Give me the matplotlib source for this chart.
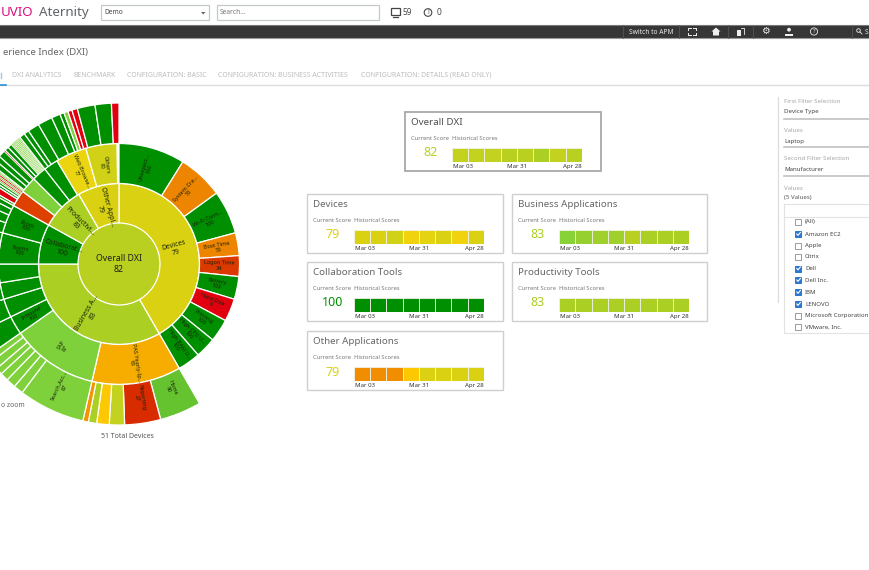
import numpy as np
import matplotlib
matplotlib.use("Agg")
import matplotlib.pyplot as plt
from matplotlib.colors import LinearSegmentedColormap
from matplotlib.patches import Rectangle, Circle

plt.rcParams['font.family'] = ['Noto Sans', 'DejaVu Sans']

# ---- data ----
center_label = "Overall DXI"
center_score = 82

ring1_names = ["Devices", "Business A...", "Collaborat...", "Productivi...", "Other Appl..."]
ring1_widths = [150, 120, 29, 31, 30]
ring1_scores = [79, 83, 100, 83, 79]

ring2_names = ["Unexpect...", "System Cra...", "Wi-Fi Conn...", "Boot Time", "Logon Time", "Battery",
               "Hard Disk", "Printing", "High CPU U...", "High RAM U...", "PAS Yearly-Ip...", "SAP",
               "Inbound", "", "", "", "Teams", "Zoom", "", "", "", "", "Web Browse...", "Others"]
ring2_widths = [32, 22, 21, 11, 10, 11, 11, 11, 10, 11, 43, 42, 9, 9, 8, 9, 15, 14, 8, 8, 7, 7, 15, 15]
ring2_scores = [100, 56, 100, 56, 34, 100, 0, 100, 100, 100, 66, 87, 100, 100, 100, 100, 100, 100,
                36, 87, 100, 100, 77, 80]
ring2_shown = [True] * 12 + [True, False, False, False, True, True, False, False, False, False, True, True]

ring3_widths = [15, 13, 5.5, 4.5, 3, 2,
                24, 3.5, 3.5, 3, 2.5, 3.1, 2.4,
                9, 9, 8, 9,
                15, 5, 4, 3, 2,
                1, 2.5, 1, 1, 0.6, 0.6, 0.6, 0.6, 0.6, 0.5,
                2, 2, 2.5, 0.5, 1.5, 1.5,
                0.5, 0.5, 0.5, 0.5, 0.5, 0.5, 0.5, 0.5, 2, 1.8, 4.2,
                5.3, 3.2, 1.5, 1.5, 1.5, 2,
                6.4, 5.9, 2.7]
ring3_scores = [90, 27, 81, 72, 83, 60,
                87, 87, 87, 87, 87, 87, 87,
                100, 100, 100, 100,
                100, 100, 100, 100, 100,
                100, 0, 100, 100, 87, 0, 87, 0, 87, 87,
                100, 100, 100, 0, 100, 100,
                87, 87, 87, 87, 87, 87, 87, 87, 100, 100, 100,
                100, 100, 100, 87, 0, 0,
                100, 100, 0]
ring3_labelled = {0: "Home\n90", 1: "Reporting\n27", 6: "Search.Acc...\n87"}

card_titles = ["Overall DXI", "Devices", "Business Applications", "Collaboration Tools",
               "Productivity Tools", "Other Applications"]
card_scores = [82, 79, 83, 100, 83, 79]
card_history = [[81, 81, 81, 82, 82, 83, 81, 82],
                [79, 79, 80, 76, 78, 79, 76, 79],
                [86, 85, 84, 84, 82, 83, 83, 83],
                [100, 100, 100, 100, 100, 100, 100, 100],
                [83, 83, 83, 83, 83, 83, 83, 83],
                [58, 58, 58, 72, 79, 79, 79, 79]]
card_dates = ["Mar 03", "Mar 31", "Apr 28"]

tab_names = ["DXI ANALYTICS", "BENCHMARK", "CONFIGURATION: BASIC",
             "CONFIGURATION: BUSINESS ACTIVITIES", "CONFIGURATION: DETAILS (READ ONLY)"]
filter_items = ["(All)", "Amazon EC2", "Apple", "Citrix", "Dell", "Dell Inc.", "IBM", "LENOVO",
                "Microsoft Corporation", "VMware, Inc."]
filter_checked = [False, True, False, False, True, True, True, True, False, False]

# ---- colour scale of the score ----
stops = [0, 27, 34, 56, 66, 72, 77, 79, 81, 83, 87, 90, 100]
stop_cols = ["#e00010", "#d82b00", "#dc3900", "#ee8500", "#f6ad00", "#fdc800", "#edd611",
             "#dcd110", "#c5d11f", "#aecf23", "#7fd13b", "#66c430", "#008f00"]
cmap = LinearSegmentedColormap.from_list("dxi", [(s / 100, c) for s, c in zip(stops, stop_cols)])
def col(s):
    return cmap(s / 100)

W, H = 870, 570
fig = plt.figure(figsize=(W / 100, H / 100), dpi=100, facecolor="white")

# base layer: page furniture, in pixel coordinates
base = fig.add_axes([0, 0, 1, 1], zorder=0)
base.set_xlim(0, W)
base.set_ylim(H, 0)
base.axis("off")

def T(x, y, s, size=5, color="#555555", ha="left", va="center", weight="normal", **kw):
    return base.text(x, y, s, fontsize=size, color=color, ha=ha, va=va, fontweight=weight, **kw)

# header
T(33, 12.5, "UVIO", 9.6, "#d8127f", ha="right", weight="medium")
T(39, 12.5, "Aternity", 9.6, "#5f6468")
for x0, x1 in [(101, 209), (217, 379)]:
    base.add_patch(Rectangle((x0, 5), x1 - x0, 15, fc="white", ec="#c4c8c8", lw=0.9))
T(104, 12.5, "Demo", 4.8, "#444444")
base.fill([201, 205.5, 203.2], [12, 12, 14.5], color="#666666", lw=0)
T(220, 12.5, "Search...", 4.8, "#777777")
base.add_patch(Rectangle((391, 8), 9, 7, fc="none", ec="#444444", lw=0.9))
base.plot([393, 398], [17, 17], color="#444444", lw=0.9)
T(403, 12.5, "59", 6, "#444444", weight="medium")
base.add_patch(Circle((428, 12.5), 3.8, fc="none", ec="#444444", lw=0.8))
T(428, 12.5, "!", 4.5, "#444444", ha="center")
T(437, 12.5, "0", 6, "#444444", weight="medium")

# dark nav bar
base.add_patch(Rectangle((0, 24.5), W, 13.5, fc="#363636", ec="none"))
base.plot([0, W], [24.5, 24.5], color="#777777", lw=0.8)
base.plot([0, W], [38, 38], color="#999999", lw=0.8)
T(629, 32, "Switch to APM", 4.8, "#e8e8e8", weight="medium")
for x in [623, 679, 728, 753, 852]:
    base.plot([x, x], [25, 38], color="#555555", lw=0.6)
ICON = "#eeeeee"
# fullscreen corners
for dx, dy in [(-1, -1), (1, -1), (-1, 1), (1, 1)]:
    base.plot([692 + dx * 3.6, 692 + dx * 1.4], [31.5 + dy * 3.4, 31.5 + dy * 3.4], color=ICON, lw=0.7)
    base.plot([692 + dx * 3.6, 692 + dx * 3.6], [31.5 + dy * 3.4, 31.5 + dy * 1.4], color=ICON, lw=0.7)
# house
base.fill([711.5, 716, 720.5, 719, 719, 713, 713], [31.5, 27.5, 31.5, 31.5, 35.5, 35.5, 31.5], color=ICON, lw=0)
# book
base.add_patch(Rectangle((737, 30), 4, 5.5, fc=ICON, ec="none"))
base.plot([741.5, 744.5, 744.5], [28, 28, 34], color=ICON, lw=0.6)
# gear
base.text(765, 31.5, "\u2699", fontsize=7, color=ICON, ha="center", va="center", family=["DejaVu Sans"])
# person
base.add_patch(Circle((789, 29.7), 1.9, fc=ICON, ec="none"))
base.add_patch(Rectangle((785, 33.7), 8, 1.8, fc=ICON, ec="none"))
# help
base.add_patch(Circle((814, 31.5), 3.6, fc="none", ec=ICON, lw=0.6))
T(814, 31.5, "?", 4.2, ICON, ha="center")
# search
base.add_patch(Circle((858.5, 30.5), 1.8, fc="none", ec=ICON, lw=0.6))
base.plot([860, 862], [32, 34], color=ICON, lw=0.6)
T(864.5, 32, "S", 4.8, "#e8e8e8")

# page title and tabs
T(88, 53, "erience Index (DXI)", 6.9, "#666666", ha="right")
for x, s in zip([12, 73, 127, 218, 361], tab_names):
    T(x, 75.5, s, 5.0, "#bdbdbd", weight="medium")
base.plot([0, W], [84.7, 84.7], color="#dcdcdc", lw=1.0)
base.plot([0, 6], [84.7, 84.7], color="#2a8fd8", lw=1.2)
base.plot([0.5, 0.5], [73, 78], color="#9cc8ea", lw=1)

T(1, 405.7, "o zoom", 4.9, "#666666")
T(127.5, 436, "51 Total Devices", 5, "#555555", ha="center")

# sunburst on a polar axes whose radial unit is one pixel
R_MAX = 165
cx, cy = 119, 264
pol = fig.add_axes([(cx - R_MAX) / W, (H - cy - R_MAX) / H, 2 * R_MAX / W, 2 * R_MAX / H],
                   projection="polar", zorder=1)
pol.set_theta_zero_location("N")
pol.set_theta_direction(-1)
pol.axis("off")
pol.patch.set_alpha(0)

def ring(widths, scores, start, r0, r1, lw=0.9):
    w = np.radians(np.array(widths, dtype=float))
    left = np.radians(start) + np.concatenate([[0], np.cumsum(w)[:-1]])
    lws = [lw if d >= 1.0 else 0.35 for d in widths]
    pol.bar(left, r1 - r0, width=w, bottom=r0, align="edge",
            color=[col(s) for s in scores], edgecolor="white", linewidth=lws)
    return left, w

pol.bar(0, 41, width=2 * np.pi, bottom=0, align="edge", color=col(center_score), edgecolor="none")
l1, w1 = ring(ring1_widths, ring1_scores, 0, 41, 80.5)
l2, w2 = ring(ring2_widths, ring2_scores, 0, 80.5, 120.5)
l3, w3 = ring(ring3_widths, ring3_scores, 150, 120.5, 161)
pol.set_rlim(0, R_MAX)

def radial_label(theta, r, s, size):
    deg = np.degrees(theta)
    rot = 90 - deg
    if deg > 180:
        rot += 180
    pol.text(theta, r, s, fontsize=size, color="#172208", rotation=rot, rotation_mode="anchor",
             ha="center", va="center", linespacing=1.0, clip_on=False)

for l, w, n, s in zip(l1, w1, ring1_names, ring1_scores):
    radial_label(l + w / 2, 58, f"{n}\n{s}", 4.9)
for l, w, n, s, show in zip(l2, w2, ring2_names, ring2_scores, ring2_shown):
    if show:
        radial_label(l + w / 2, 100, f"{n}\n{s}", 4.0)
for i, s in ring3_labelled.items():
    radial_label(l3[i] + w3[i] / 2, 135, s, 4.0)

pol.text(0, 0, f"{center_label}\n{center_score}", fontsize=6.3, color="#1e1e1e", ha="center",
         va="center", fontweight="bold", linespacing=1.35)

# KPI cards
card_boxes = [(405, 112, 196), (307, 194, 196), (512, 194, 195), (307, 262, 196), (512, 262, 195), (307, 331, 196)]
for i, ((x, y, w), title, score, hist) in enumerate(zip(card_boxes, card_titles, card_scores, card_history)):
    h = 59
    first = i == 0
    base.add_patch(Rectangle((x, y), w, h, fc="white", ec="#a8a8a8" if first else "#cfcfcf", lw=1.3 if first else 1.0))
    T(x + 6, y + 10.5, title, 7.0, "#4d4d4d" if first else "#666666", weight="semibold" if first else "normal")
    T(x + 6, y + 26.5, "Current Score", 4.2, "#777777")
    T(x + 47, y + 26.5, "Historical Scores", 4.2, "#777777")
    T(x + 26, y + 41, str(score), 9.0, col(score), ha="center")
    ax = fig.add_axes([(x + 47) / W, (H - (y + 49.5)) / H, 130 / W, 13.5 / H], zorder=2)
    ax.bar(np.arange(8), np.ones(8), width=1, align="edge", color=[col(v) for v in hist],
           edgecolor="#f2f2e8", linewidth=0.6)
    ax.set_xlim(0, 8)
    ax.set_ylim(0, 1)
    ax.set_yticks([])
    ax.set_xticks([0.06, 4, 8])
    ax.set_xticklabels(card_dates, fontsize=4.4, color="#333333", fontweight="semibold")
    ax.get_xticklabels()[0].set_ha("left")
    ax.get_xticklabels()[2].set_ha("right")
    ax.tick_params(axis="x", length=0, pad=1.6)
    for sp in ax.spines.values():
        sp.set_visible(False)

# filter panel
base.plot([778.5, 778.5], [97, 302], color="#dddddd", lw=0.9)
for y_lab, lab, y_val, val, y_line in [(101.5, "First Filter Selection", 112, "Device Type", 118.5),
                                       (130.5, "Values", 141, "Laptop", 147),
                                       (159, "Second Filter Selection", 169.5, "Manufacturer", 175.5)]:
    T(784, y_lab, lab, 4.4, "#a5a5a5")
    T(784, y_val, val, 4.4, "#444444")
    base.plot([784, W], [y_line, y_line], color="#bcbcbc", lw=1.1)
T(784, 188, "Values", 4.4, "#a5a5a5")
T(784, 198, "(5 Values)", 4.4, "#555555")
base.plot([784, 784, W], [204, 333, 333], color="#e2e2e2", lw=0.8)
base.plot([784, W], [204, 204], color="#e2e2e2", lw=0.8)
base.plot([784, W], [216.5, 216.5], color="#e2e2e2", lw=0.8)
item_y = [222, 234, 245.6, 257, 268.5, 280, 292, 304, 315.5, 327]
for y, name, chk in zip(item_y, filter_items, filter_checked):
    base.add_patch(Rectangle((795.5, y - 3), 6, 6, fc="#2b77d0" if chk else "white",
                             ec="#2b77d0" if chk else "#9a9a9a", lw=0.7))
    if chk:
        base.plot([796.8, 798, 800.4], [y, y + 1.4, y - 1.6], color="white", lw=0.8)
    T(805, y, name, 4.35, "#444444")

fig.savefig("out.png", dpi=100, facecolor="white")
